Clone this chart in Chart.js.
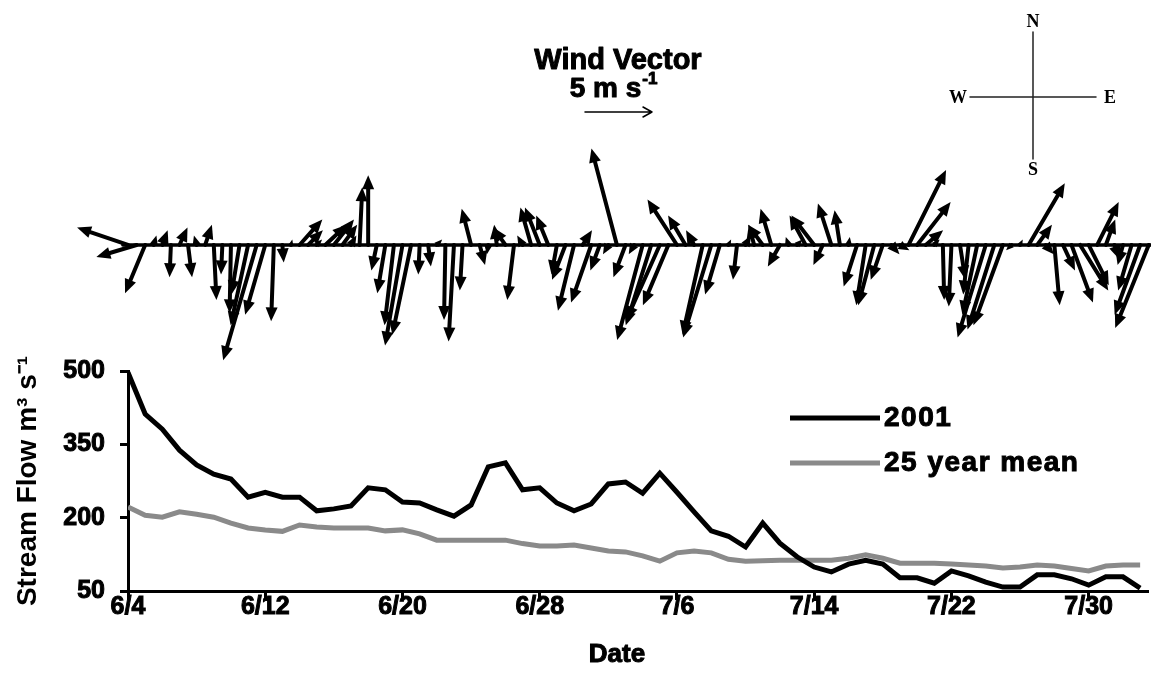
<!DOCTYPE html>
<html>
<head>
<meta charset="utf-8">
<script src="https://cdn.jsdelivr.net/npm/chart.js@4.4.1/dist/chart.umd.min.js"></script>
<style>
  html, body { margin: 0; padding: 0; background: #fff; }
  #wrap { position: relative; width: 1151px; height: 700px; }
  #flow-chart, #wind-chart { position: absolute; left: 0; top: 0; }
</style>
</head>
<body>
<div id="wrap">
  <canvas id="flow-chart" width="1151" height="700"></canvas>
  <canvas id="wind-chart" width="1151" height="370"></canvas>
</div>
<script>
// x axis is days since 6/4
const tickDays = [0, 8, 16, 24, 32, 40, 48, 56];
const tickLabels = ['6/4', '6/12', '6/20', '6/28', '7/6', '7/14', '7/22', '7/30'];
const flowTicks = [50, 200, 350, 500];

// daily stream flow, m3/s, 6/4 .. 8/2
const flow2001 = [
  497, 412, 381, 338, 308, 289, 279, 242, 252, 242,
  242, 214, 218, 224, 261, 257, 232, 230, 216, 203,
  226, 304, 312, 257, 261, 230, 214, 228, 269, 273,
  250, 291, 252, 212, 173, 162, 140, 189, 148, 120,
  99, 89, 105, 113, 105, 77, 77, 66, 91, 81,
  68, 58, 58, 83, 83, 75, 62, 79, 79, 56
];
const flowMean = [
  222, 205, 201, 212, 207, 201, 189, 179, 175, 172,
  185, 181, 179, 179, 179, 173, 175, 167, 154, 154,
  154, 154, 154, 147, 142, 142, 144, 138, 132, 130,
  122, 111, 128, 132, 128, 115, 111, 112, 113, 113,
  113, 113, 117, 124, 117, 107, 107, 107, 105, 103,
  101, 97, 99, 103, 101, 96, 91, 101, 103, 103
];

// wind components (m/s, east and north), two readings per day
const windStep = 0.5;
const windU = [
  -3.8, -3.0, -1.5, 0.2, 0.4, -0.1, 0.6, 0.3, -0.2, 0.5,
  0.2, -0.1, -0.1, -0.6, -1.3, -2.5, -1.5, -0.2, 0.1, 0.1,
  1.7, 1.1, 0.4, 1.6, 1.5, 1.1, 0.4, 0.2, 0.0, -0.4,
  -0.6, -0.7, -1.3, -1.4, -0.1, 0.2, 0.4, -0.1, -0.4, -0.2,
  -0.7, 0.4, -0.1, -0.2, -0.9, -0.5, -0.4, -0.8, -1.1, -0.9,
  -0.4, -1.0, -1.2, 0.7, -1.5, -0.7, -0.4, -1.9, -0.9, -0.4,
  -1.9, -1.9, -2.5, -1.9, -2.2, -1.3, -0.6, -1.5, -2.1, -1.1,
  0.2, -0.3, 0.4, -0.4, -1.1, -0.8, -0.9, -0.2, 0.4, -1.2,
  -1.7, -0.7, -1.0, -0.4, 0.1, -1.0, -0.7, -1.2, -0.9, 0.6,
  0.7, 2.8, 2.5, 1.3, 0.4, 0.1, -0.2, 0.4, -0.4, -1.1,
  -2.1, -2.0, -2.2, -0.4, 0.2, 2.7, 1.1, 0.6, 0.4, 0.9,
  1.6, 2.1, 1.5, 1.6, 0.7, 0.4, -0.4, -1.0, -1.9, -2.5
];
const windV = [
  1.3, -0.9, -3.6, 0.7, 1.1, -2.4, 1.3, -2.4, 0.7, 1.5,
  -4.1, -2.2, -5.1, -3.7, -6.0, -8.6, -5.2, -5.7, -1.3, 0.4,
  1.9, 1.1, 0.4, 1.5, 1.9, 1.5, 0.7, 4.3, 5.2, -1.9,
  -3.6, -6.0, -7.5, -6.7, -2.2, -1.6, 0.4, -5.6, -7.2, -3.4,
  2.7, -1.5, -0.7, 1.5, 1.3, -4.1, 0.7, 2.8, 2.8, 2.2,
  -2.2, -2.6, -4.9, 1.1, -4.3, -1.9, -0.7, 7.2, -2.4, -0.7,
  -7.1, -6.0, -5.6, -4.5, 3.4, 2.2, 1.1, -6.7, -6.9, -3.7,
  0.4, -2.6, 0.7, 1.5, 1.5, 2.7, -1.6, 0.6, 0.4, 2.2,
  2.2, -1.5, 3.1, 2.6, 0.6, -3.1, -4.5, -4.5, -2.6, -0.7,
  -0.4, 5.6, 3.2, 1.1, 0.4, -4.1, -4.6, -2.6, -3.7, -5.2,
  -6.9, -6.3, -6.0, -0.4, 0.4, 4.6, 1.5, -0.7, -4.5, -1.9,
  -4.3, -3.4, -3.0, 3.2, 1.9, -1.1, -1.5, -3.4, -5.2, -6.2
];
const scaleVector = 5; // m/s, reference arrow

const FONT = "'Liberation Sans', Arial, sans-serif";
Chart.defaults.font.family = FONT;
Chart.defaults.color = '#000';

// heavy text: fill plus a thin stroke of the same colour
function boldText(ctx, text, x, y) {
  ctx.fillText(text, x, y);
  ctx.strokeText(text, x, y);
}

// filled-head arrow used for the stick plot
function drawArrow(ctx, x0, y0, x1, y1) {
  const dx = x1 - x0, dy = y1 - y0;
  const len = Math.hypot(dx, dy);
  if (len < 0.5) return;
  const ux = dx / len, uy = dy / len;
  const head = Math.min(14, len);
  const half = 6 * head / 14;
  const bx = x1 - ux * head, by = y1 - uy * head;
  ctx.beginPath();
  ctx.moveTo(x0, y0);
  ctx.lineTo(bx, by);
  ctx.stroke();
  ctx.beginPath();
  ctx.moveTo(x1, y1);
  ctx.lineTo(bx - uy * half, by + ux * half);
  ctx.lineTo(bx + uy * half, by - ux * half);
  ctx.closePath();
  ctx.fill();
}

const windArrows = {
  id: 'windArrows',
  afterDatasetsDraw(chart) {
    const { ctx, scales: { x, y } } = chart;
    const y0 = y.getPixelForValue(0);
    const pxPerMs = y0 - y.getPixelForValue(1);
    ctx.save();
    ctx.strokeStyle = '#000';
    ctx.fillStyle = '#000';
    ctx.lineCap = 'round';

    // time axis of the stick plot
    ctx.lineWidth = 3.5;
    ctx.beginPath();
    ctx.moveTo(x.getPixelForValue(-0.3), y0);
    ctx.lineTo(chart.width, y0);
    ctx.stroke();

    ctx.lineWidth = 4;
    windU.forEach((u, i) => {
      const x0 = x.getPixelForValue(i * windStep);
      drawArrow(ctx, x0, y0, x0 + u * pxPerMs, y0 - windV[i] * pxPerMs);
    });

    // key: title and 5 m/s arrow
    ctx.lineWidth = 1;
    ctx.lineJoin = 'round';
    ctx.textAlign = 'center';
    ctx.textBaseline = 'middle';
    ctx.font = 'bold 29px ' + FONT;
    boldText(ctx, 'Wind Vector', 618, 61);
    ctx.font = 'bold 28px ' + FONT;
    const main = '5 m s';
    const w = ctx.measureText(main).width;
    ctx.font = 'bold 17px ' + FONT;
    const sw = ctx.measureText('-1').width;
    const sx = 613 - (w + sw) / 2;
    ctx.textAlign = 'left';
    ctx.font = 'bold 28px ' + FONT;
    boldText(ctx, main, sx, 89);
    ctx.font = 'bold 17px ' + FONT;
    boldText(ctx, '-1', sx + w + 1, 79);

    const ax = 585, ay = 112, ax1 = ax + scaleVector * pxPerMs;
    ctx.lineWidth = 1.5;
    ctx.beginPath();
    ctx.moveTo(ax, ay);
    ctx.lineTo(ax1, ay);
    ctx.moveTo(ax1 - 9, ay - 5);
    ctx.lineTo(ax1, ay);
    ctx.lineTo(ax1 - 9, ay + 5);
    ctx.stroke();

    // compass
    ctx.strokeStyle = '#222';
    ctx.lineWidth = 1.5;
    ctx.beginPath();
    ctx.moveTo(970, 97); ctx.lineTo(1096, 97);
    ctx.moveTo(1033, 32); ctx.lineTo(1033, 159);
    ctx.stroke();
    ctx.font = "bold 18px 'Liberation Serif', 'DejaVu Serif', serif";
    ctx.textAlign = 'center';
    ctx.fillText('N', 1033, 22);
    ctx.fillText('S', 1033, 170);
    ctx.fillText('W', 958, 98);
    ctx.fillText('E', 1110, 98);
    ctx.restore();
  }
};

new Chart(document.getElementById('wind-chart'), {
  type: 'scatter',
  data: {
    datasets: [{
      data: windU.map((u, i) => ({ x: i * windStep, y: 0 })),
      pointRadius: 0
    }]
  },
  options: {
    responsive: false,
    animation: false,
    layout: { padding: { left: 128, right: 4, top: 0, bottom: 0 } },
    plugins: { legend: { display: false }, tooltip: { enabled: false } },
    scales: {
      x: { type: 'linear', min: 0, max: 59.4, display: false },
      y: { type: 'linear', min: -9.33, max: 18.28, display: false }
    }
  },
  plugins: [windArrows]
});

// legend inside the plot, plus the x axis title
const flowLegend = {
  id: 'flowLegend',
  afterDraw(chart) {
    const { ctx } = chart;
    ctx.save();
    ctx.font = 'bold 28px ' + FONT;
    ctx.textBaseline = 'middle';
    ctx.textAlign = 'left';
    chart.data.datasets.forEach((ds, i) => {
      const y = 418 + i * 45;
      ctx.strokeStyle = ds.borderColor;
      ctx.lineWidth = ds.borderWidth;
      ctx.beginPath();
      ctx.moveTo(790, y);
      ctx.lineTo(880, y);
      ctx.stroke();
      ctx.fillStyle = '#000';
      ctx.strokeStyle = '#000';
      ctx.lineWidth = 1;
      ctx.letterSpacing = '1.5px';
      boldText(ctx, ds.label, 884, y);
      ctx.letterSpacing = '0px';
    });
    ctx.textAlign = 'center';
    ctx.font = 'bold 26px ' + FONT;
    boldText(ctx, 'Date', 617, 655);
    ctx.restore();
  }
};

const axisFont = { size: 25, weight: 'bold', lineHeight: 1 };

new Chart(document.getElementById('flow-chart'), {
  type: 'line',
  data: {
    datasets: [
      {
        label: '2001',
        data: flow2001.map((v, i) => ({ x: i, y: v })),
        borderColor: '#000',
        borderWidth: 5,
        pointRadius: 0,
        tension: 0
      },
      {
        label: '25 year mean',
        data: flowMean.map((v, i) => ({ x: i, y: v })),
        borderColor: '#8a8a8a',
        borderWidth: 5,
        pointRadius: 0,
        tension: 0
      }
    ]
  },
  options: {
    responsive: false,
    animation: false,
    layout: { padding: { left: 7, right: 4, top: 371, bottom: 27 } },
    plugins: { legend: { display: false }, tooltip: { enabled: false } },
    scales: {
      x: {
        type: 'linear',
        min: 0,
        max: 59.4,
        afterBuildTicks: (scale) => { scale.ticks = tickDays.map(v => ({ value: v })); },
        afterFit: (scale) => { scale.height = 82; },
        ticks: {
          autoSkip: false,
          maxRotation: 0,
          padding: -5,
          font: axisFont,
          textStrokeColor: '#000',
          textStrokeWidth: 1,
          callback: (val) => tickLabels[tickDays.indexOf(val)]
        },
        grid: { drawOnChartArea: false, drawTicks: true, tickLength: 9, color: '#000', lineWidth: 3 },
        border: { color: '#000', width: 3 }
      },
      y: {
        type: 'linear',
        min: 50,
        max: 500,
        afterBuildTicks: (scale) => { scale.ticks = flowTicks.map(v => ({ value: v })); },
        afterFit: (scale) => { scale.width = 121; },
        ticks: { padding: 15, font: axisFont, textStrokeColor: '#000', textStrokeWidth: 1 },
        grid: { drawOnChartArea: false, drawTicks: true, tickLength: 8, color: '#000', lineWidth: 3 },
        border: { color: '#000', width: 3 },
        title: { display: true, text: 'Stream Flow m³ s⁻¹', font: { size: 28, weight: 'bold' }, padding: { top: 4, bottom: 4 } }
      }
    }
  },
  plugins: [flowLegend]
});
</script>
</body>
</html>
